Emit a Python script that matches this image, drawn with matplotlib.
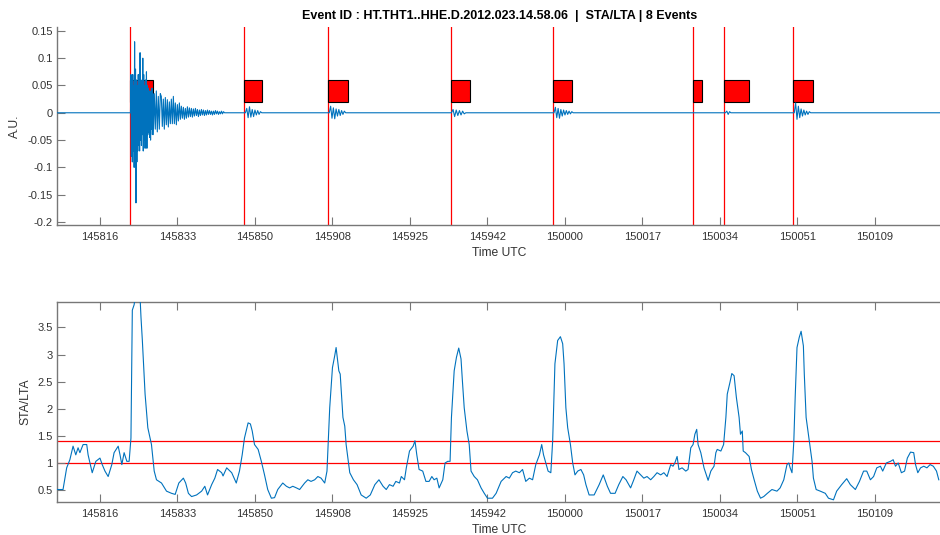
import numpy as np
import matplotlib.pyplot as plt
from matplotlib import ticker

plt.rcParams['font.family'] = ['Liberation Sans', 'DejaVu Sans']

# time axis: seconds after 14:58:06
tick_pos = [10, 27, 44, 61, 78, 95, 112, 129, 146, 163, 180]
tick_lab = ['145816', '145833', '145850', '145908', '145925', '145942',
            '150000', '150017', '150034', '150051', '150109']
t_lo, t_hi = 0.57, 194.7

# triggers (start, length)
trig_t = [16.6, 41.7, 60.1, 86.9, 109.4, 140.1, 146.9, 162.1]
trig_len = [4.98, 3.86, 4.39, 4.23, 4.25, 2.06, 5.48, 4.25]
thresholds = [1.4, 1.0]

# waveform pieces: (start, sample step, values)
main_burst = [0, 0.07, -0.08, 0.06, -0.09, 0.07, -0.07, 0.05, -0.1, 0.13,
              -0.06, 0.08, -0.165, 0.06, -0.09, 0.05, -0.07, 0.07, -0.06, 0.06,
              -0.07, 0.11, -0.05, 0.06, -0.06, 0.05, -0.04, 0.1, -0.07, 0.07,
              -0.05, 0.05, -0.065, 0.06, -0.04, 0.075, -0.065, 0.05, -0.04, 0.045,
              -0.035, 0.04, -0.045, 0.035, -0.05, 0.04, -0.03, 0.045, -0.04, 0.035]
main_coda = [-0.04, 0.035, -0.03, 0.04, -0.035, 0.03, -0.03, 0.035,
             0.03, -0.025, 0.025, -0.03, 0.028, -0.022, 0.024, -0.026, 0.02, -0.02, 0.025, -0.02,
             0.03, -0.02, 0.018, -0.022, 0.015, -0.015, 0.018, -0.012,
             0.012, -0.01, 0.01, -0.012, 0.008, -0.01, 0.011, -0.008, 0.009, -0.007, 0.008, -0.008,
             0.007, -0.006, 0.008, -0.005, 0.006, -0.007, 0.005, -0.005, 0.006, -0.004, 0.005, -0.005,
             0.004, -0.004, 0.005, -0.003,
             0.004, -0.003, 0.003, -0.004, 0.003, -0.003, 0.004, -0.002, 0.003, -0.003, 0.002, -0.002,
             0.003, -0.002, 0.002, 0]
wig2 = [0, 0.008, -0.009, 0.011, -0.008, 0.006, -0.007, 0.005, -0.004, 0.004, -0.003, 0.002, 0]
wig3 = [0, 0.012, -0.01, 0.009, -0.011, 0.007, -0.006, 0.006, -0.005, 0.004, -0.003, 0.003, 0]
wig4 = [0, 0.006, -0.007, 0.005, -0.005, 0.004, -0.004, 0.003, -0.002, 0]
wig5 = [0, 0.01, -0.009, 0.008, -0.01, 0.006, -0.006, 0.005, -0.004, 0.004, -0.003, 0.003,
        -0.002, 0.002, 0]
wig7 = [0, 0.003, -0.003, 0.002, 0]
wig8 = [0, 0.018, -0.012, 0.012, -0.009, 0.007, -0.006, 0.005, -0.004, 0.003, -0.003, 0.002, 0]
pieces = [(16.7, 0.1, main_burst), (21.7, 0.22, main_coda), (41.9, 0.3, wig2),
          (60.3, 0.3, wig3), (87.1, 0.35, wig4), (109.6, 0.3, wig5),
          (147.2, 0.3, wig7), (162.3, 0.3, wig8)]

# STA/LTA curve
sta_t = [0.6, 1.9, 2.7, 3.4, 4.1, 4.7, 5.2, 5.6, 6.3, 7.1, 7.4, 8.3, 9.1, 10.0, 10.5,
         11.1, 11.8, 12.6, 13.1, 14.0, 14.4, 14.8, 15.3, 15.9, 16.4, 16.8, 17.1, 17.5,
         17.7, 18.8, 19.0, 19.3, 19.9, 20.5, 21.3, 21.9, 22.4, 23.5, 24.6, 25.7, 26.5,
         27.3, 28.3, 28.8, 29.4, 30.1, 31.2, 32.3, 33.0, 33.6, 34.5, 35.2, 35.8, 36.7,
         37.0, 37.8, 38.9, 39.6, 39.9, 40.6, 41.2, 41.7, 42.5, 43.0, 43.4, 43.9, 44.7,
         45.4, 46.1, 46.8, 47.6, 48.3, 49.0, 50.1, 50.9, 51.6, 52.3, 53.1, 53.8, 54.9,
         55.6, 56.3, 57.1, 57.8, 58.5, 59.3, 59.8, 60.4, 61.0, 61.5, 61.8, 62.4, 62.7,
         63.3, 63.7, 64.0, 64.8, 65.6, 66.4, 67.3, 68.4, 69.3, 70.3, 71.2, 72.1, 72.8,
         73.5, 74.3, 74.9, 75.7, 76.1, 76.8, 77.2, 77.9, 78.7, 79.1, 79.5, 80.0, 80.8,
         81.5, 82.2, 82.8, 83.3, 83.9, 84.4, 85.2, 85.7, 86.3, 86.8, 87.1, 87.7, 88.2,
         88.7, 89.2, 89.5, 89.9, 90.5, 91.0, 91.4, 92.1, 92.8, 93.6, 94.3, 95.0, 96.1,
         96.9, 98.0, 99.1, 99.8, 100.5, 101.2, 102.0, 102.7, 103.4, 104.2, 104.9, 105.6,
         106.4, 106.9, 107.3, 107.8, 108.3, 108.9, 109.3, 109.8, 110.4, 111.0, 111.5,
         111.8, 112.2, 112.6, 113.2, 113.7, 114.2, 114.8, 115.5, 116.1, 116.6, 117.3,
         118.4, 119.5, 120.4, 121.3, 122.0, 123.0, 123.8, 124.7, 125.4, 126.4, 127.1,
         127.8, 128.6, 129.3, 130.0, 130.8, 131.5, 132.2, 133.0, 133.7, 134.4, 135.2,
         135.7, 136.1, 136.6, 137.0, 137.7, 138.5, 139.0, 139.6, 140.1, 140.5, 140.9,
         141.2, 141.8, 142.5, 143.4, 144.0, 144.7, 145.1, 145.4, 146.2, 146.8, 147.3,
         147.6, 148.2, 148.6, 149.1, 149.6, 150.2, 150.5, 150.9, 151.1, 151.6, 152.4,
         152.9, 153.5, 154.2, 154.9, 155.6, 156.4, 157.4, 158.5, 159.2, 160.0, 160.7,
         161.1, 161.4, 161.8, 162.2, 162.5, 162.9, 163.4, 163.8, 164.3, 164.5, 164.9,
         165.4, 165.8, 166.2, 166.5, 167.1, 168.0, 169.1, 169.8, 170.9, 171.6, 172.7,
         173.8, 174.6, 175.7, 176.6, 177.5, 178.2, 179.0, 179.7, 180.4, 181.2, 181.7,
         182.5, 183.4, 184.0, 184.5, 185.1, 185.8, 186.5, 187.1, 187.8, 188.5, 188.9,
         189.4, 190.0, 190.7, 191.4, 192.1, 192.8, 193.5, 194.0]
sta_v = [0.51, 0.51, 0.91, 1.06, 1.31, 1.15, 1.28, 1.19, 1.34, 1.34, 1.15, 0.82, 1.03, 1.09, 0.97,
         0.85, 0.75, 0.97, 1.19, 1.31, 1.15, 0.97, 1.19, 1.03, 1.03, 1.46, 3.82, 3.92,
         4.05, 4.05, 3.69, 3.26, 2.27, 1.65, 1.34, 0.85, 0.69, 0.63, 0.48, 0.44, 0.42,
         0.63, 0.72, 0.63, 0.44, 0.38, 0.41, 0.48, 0.57, 0.41, 0.60, 0.72, 0.88, 0.82,
         0.76, 0.91, 0.82, 0.69, 0.63, 0.85, 1.15, 1.46, 1.74, 1.72, 1.59, 1.34, 1.25,
         1.03, 0.78, 0.51, 0.35, 0.36, 0.51, 0.63, 0.57, 0.54, 0.57, 0.54, 0.51, 0.63,
         0.69, 0.66, 0.69, 0.75, 0.72, 0.63, 0.85, 2.02, 2.76, 2.98, 3.13, 2.70, 2.64,
         1.84, 1.68, 1.34, 0.82, 0.69, 0.60, 0.41, 0.35, 0.41, 0.60, 0.69, 0.57, 0.51,
         0.60, 0.57, 0.66, 0.63, 0.75, 0.69, 0.91, 1.22, 1.31, 1.41, 1.15, 0.88, 0.85,
         0.66, 0.66, 0.75, 0.69, 0.72, 0.54, 0.69, 1.0, 1.03, 1.03, 1.84, 2.70, 2.95,
         3.12, 2.92, 2.52, 2.02, 1.59, 1.34, 0.85, 0.75, 0.69, 0.54, 0.44, 0.35, 0.35,
         0.44, 0.66, 0.75, 0.72, 0.82, 0.85, 0.82, 0.88, 0.66, 0.72, 0.69, 0.97,
         1.15, 1.34, 1.15, 1.0, 0.85, 0.82, 1.40, 2.83, 3.26, 3.33, 3.2,
         2.83, 2.02, 1.65, 1.34, 1.0, 0.78, 0.85, 0.88, 0.78, 0.60, 0.41,
         0.41, 0.60, 0.78, 0.57, 0.44, 0.44, 0.60, 0.75, 0.69, 0.54, 0.69,
         0.85, 0.78, 0.72, 0.75, 0.69, 0.75, 0.82, 0.78, 0.82, 0.75, 0.97,
         0.94, 1.0, 1.12, 0.88, 0.91, 0.85, 0.88, 1.28, 1.34, 1.53, 1.62,
         1.34, 1.19, 0.91, 0.68, 0.85, 0.94, 1.19, 1.25, 1.22, 1.34, 1.84,
         2.27, 2.49, 2.65, 2.61, 2.21, 1.84, 1.53, 1.59, 1.22, 1.19, 1.12,
         0.88, 0.69, 0.48, 0.35, 0.38, 0.44, 0.51, 0.48, 0.54, 0.69, 0.97,
         1.0, 0.91, 0.82, 1.40, 2.21, 3.13, 3.32, 3.43, 3.16, 2.64, 1.84,
         1.53, 1.28, 1.03, 0.72, 0.51, 0.48, 0.44, 0.35, 0.32, 0.48, 0.60,
         0.71, 0.60, 0.51, 0.66, 0.85, 0.85, 0.69, 0.75, 0.91, 0.94, 0.85,
         1.0, 1.03, 1.06, 0.94, 1.0, 0.82, 0.85, 1.09, 1.20, 1.19, 0.97,
         0.82, 0.91, 0.94, 0.91, 0.97, 0.94, 0.85, 0.69]

blue = '#0072BD'
axcol = '#777777'
txtcol = '#333333'

wt, wv = [t_lo], [0.0]
for t0, dt, vals in pieces:
    wt += list(t0 + dt * np.arange(len(vals)))
    wv += vals
wt.append(t_hi)
wv.append(0.0)

fig = plt.figure(figsize=(9.4, 5.35), dpi=100)
ax1 = fig.add_axes([0.0606, 0.5794, 0.9415, 0.3701])
ax2 = fig.add_axes([0.0606, 0.0617, 0.9415, 0.3738])

# top: waveform + triggers
for t in trig_t:
    ax1.axvline(t, color='red', lw=0.9, zorder=1)
ax1.bar(trig_t, [0.04] * len(trig_t), width=trig_len, bottom=0.02, align='edge',
        color='red', edgecolor='black', linewidth=0.8, zorder=2)
ax1.plot(wt, wv, color=blue, lw=0.8, zorder=3)
ax1.set_ylim(-0.2055, 0.157)
ax1.set_yticks([-0.2, -0.15, -0.1, -0.05, 0, 0.05, 0.1, 0.15])
ax1.set_ylabel('A.U.', fontsize=8.7, color=txtcol, labelpad=5)
ax1.set_title('Event ID : HT.THT1..HHE.D.2012.023.14.58.06  |  STA/LTA | 8 Events',
              fontsize=9, fontweight='bold', pad=6)
ax1.spines['top'].set_visible(False)

# bottom: STA/LTA
for th in thresholds:
    ax2.axhline(th, color='red', lw=0.9, zorder=1)
ax2.plot(sta_t, sta_v, color=blue, lw=0.8, zorder=3)
ax2.set_ylim(0.28, 3.97)
ax2.set_yticks([0.5, 1, 1.5, 2, 2.5, 3, 3.5])
ax2.set_ylabel('STA/LTA', fontsize=8.7, color=txtcol, labelpad=4)
ax2.tick_params(axis='x', top=True)

for ax in (ax1, ax2):
    ax.set_xlim(t_lo, t_hi)
    ax.set_xticks(tick_pos)
    ax.set_xticklabels(tick_lab)
    ax.yaxis.set_major_formatter(ticker.FormatStrFormatter('%g'))
    ax.set_xlabel('Time UTC', fontsize=8.7, color=txtcol, labelpad=3.5)
    ax.tick_params(direction='in', length=5.5, width=0.8, color=axcol,
                   labelsize=8, labelcolor=txtcol)
    ax.tick_params(axis='x', pad=5)
    ax.tick_params(axis='y', pad=3)
    ax.spines['right'].set_visible(False)
    for s in ('left', 'bottom', 'top'):
        ax.spines[s].set_color(axcol)
        ax.spines[s].set_linewidth(1.0)

fig.savefig('out.png', dpi=100)
